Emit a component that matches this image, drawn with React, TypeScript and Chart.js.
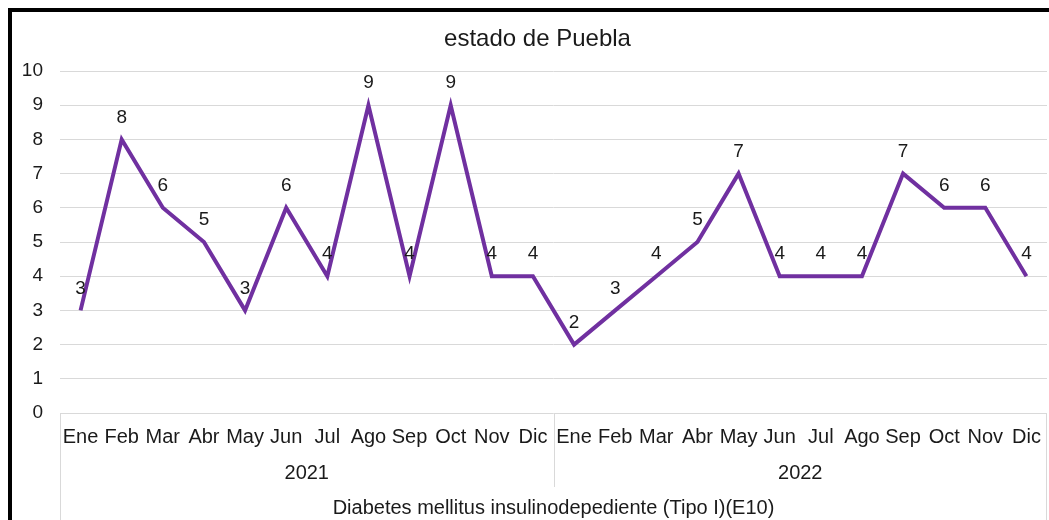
import React, { useEffect, useRef } from "react";
import { Chart, registerables } from "chart.js";

Chart.register(...registerables);

const chartTitle = "estado de Puebla";
const axisTitle = "Diabetes mellitus insulinodepediente (Tipo I)(E10)";
const months = ["Ene", "Feb", "Mar", "Abr", "May", "Jun", "Jul", "Ago", "Sep", "Oct", "Nov", "Dic"];
const years = ["2021", "2022"];
const values2021 = [3, 8, 6, 5, 3, 6, 4, 9, 4, 9, 4, 4];
const values2022 = [2, 3, 4, 5, 7, 4, 4, 4, 7, 6, 6, 4];
const yMin = 0;
const yMax = 10;
const yStep = 1;

const FONT = "'Liberation Sans', Arial, sans-serif";
const TEXT = "#1a1a1a";
const GRID = "#d9d9d9";
const LINE = "#7030A0";

const labels = years.flatMap((y) => months.map((m) => `${m} ${y}`));
const values = [...values2021, ...values2022];

const decorPlugin = {
  id: "decor",
  afterDraw(chart: any) {
    const ctx = chart.ctx as CanvasRenderingContext2D;
    const area = chart.chartArea;
    const xs = chart.scales.x;
    ctx.save();
    // frame
    ctx.fillStyle = "#000000";
    ctx.fillRect(8, 8, chart.width - 8, 4);
    ctx.fillRect(8, 8, 4, chart.height - 8);

    // title
    ctx.fillStyle = TEXT;
    ctx.font = `24px ${FONT}`;
    ctx.textAlign = "center";
    ctx.textBaseline = "alphabetic";
    ctx.fillText(chartTitle, 537.5, 46);

    // data labels
    const meta = chart.getDatasetMeta(0);
    ctx.font = `19px ${FONT}`;
    ctx.textBaseline = "middle";
    meta.data.forEach((pt: any, i: number) => {
      ctx.fillText(String(values[i]), pt.x, pt.y - 22);
    });

    // multi-level category axis
    const n = labels.length;
    const per = months.length;
    const bottom = area.bottom;
    ctx.strokeStyle = GRID;
    ctx.lineWidth = 1;
    const vline = (x: number, y2: number) => {
      ctx.beginPath();
      ctx.moveTo(Math.round(x) + 0.5, bottom);
      ctx.lineTo(Math.round(x) + 0.5, y2);
      ctx.stroke();
    };
    vline(area.left, chart.height);
    vline(area.right - 1, chart.height);
    const bounds: number[] = [area.left];
    for (let g = 1; g < years.length; g++) {
      const b = (xs.getPixelForValue(g * per - 1) + xs.getPixelForValue(g * per)) / 2;
      bounds.push(b);
      vline(b, 487);
    }
    bounds.push(area.right);

    ctx.font = `20px ${FONT}`;
    ctx.fillStyle = TEXT;
    for (let i = 0; i < n; i++) {
      ctx.fillText(months[i % per], xs.getPixelForValue(i), 437);
    }
    years.forEach((y, g) => {
      ctx.fillText(y, (bounds[g] + bounds[g + 1]) / 2, 473);
    });
    ctx.fillText(axisTitle, (area.left + area.right) / 2, 508);
    ctx.restore();
  },
};

export default function App() {
  const ref = useRef<HTMLCanvasElement | null>(null);
  useEffect(() => {
    if (!ref.current) return;
    const chart = new Chart(ref.current, {
      type: "line",
      data: {
        labels,
        datasets: [
          {
            data: values,
            borderColor: LINE,
            backgroundColor: LINE,
            borderWidth: 4,
            pointRadius: 0,
            pointHoverRadius: 0,
            tension: 0,
            fill: false,
          },
        ],
      },
      options: {
        responsive: false,
        animation: false,
        devicePixelRatio: 1,
        layout: { padding: { top: 71, right: 2, left: 0, bottom: 0 } },
        plugins: {
          legend: { display: false },
          title: { display: false },
          tooltip: { enabled: false },
        },
        scales: {
          x: {
            type: "category",
            offset: true,
            grid: { display: false },
            border: { display: false },
            ticks: { display: false },
            afterFit: (s: any) => {
              s.height = 107;
            },
          },
          y: {
            min: yMin,
            max: yMax,
            grid: { color: GRID, lineWidth: 1, drawTicks: false },
            border: { display: false },
            ticks: {
              stepSize: yStep,
              padding: 17,
              color: TEXT,
              font: { family: FONT, size: 19 },
            },
            afterFit: (s: any) => {
              s.width = 60;
            },
          },
        },
      },
      plugins: [decorPlugin],
    });
    return () => chart.destroy();
  }, []);
  return (
    <canvas
      ref={ref}
      width={1049}
      height={520}
      style={{ position: "absolute", left: 0, top: 0, width: 1049, height: 520 }}
    />
  );
}
